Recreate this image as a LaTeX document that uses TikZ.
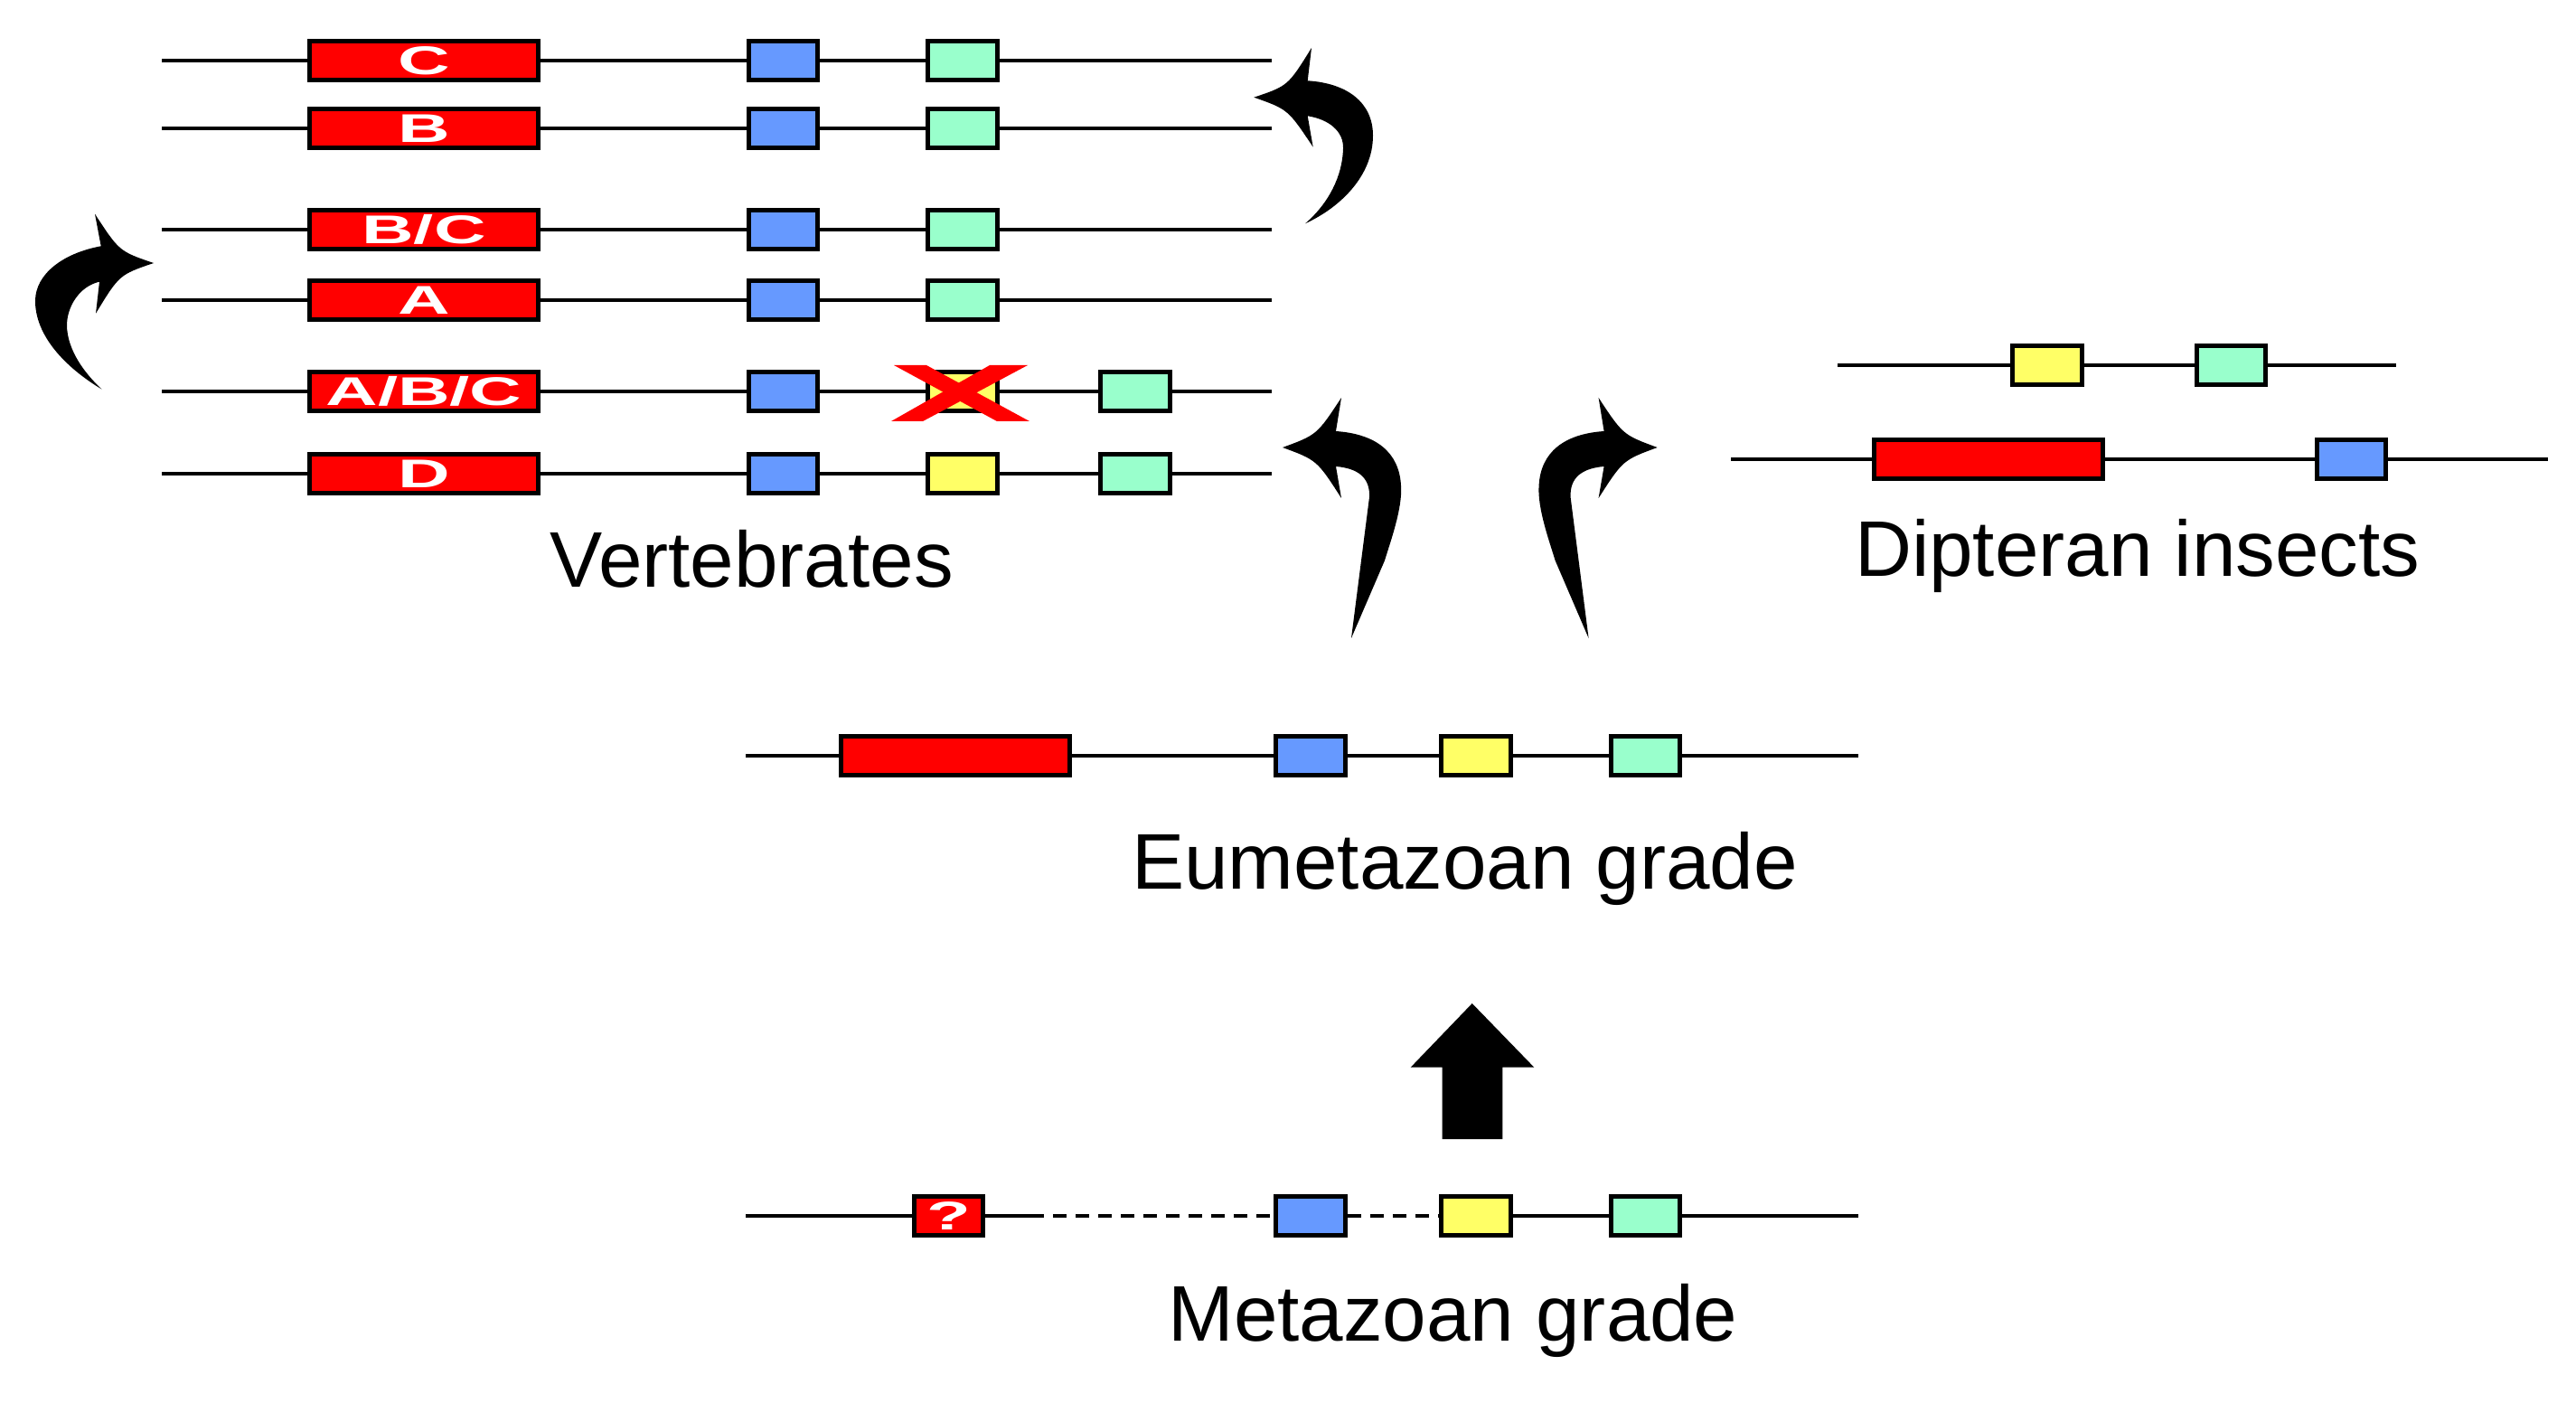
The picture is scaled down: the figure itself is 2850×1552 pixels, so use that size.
\documentclass[tikz,border=0pt]{standalone}
\usepackage{fontspec}
\setmainfont{Liberation Sans}
\definecolor{geneRed}{RGB}{255,0,0}
\definecolor{geneBlue}{RGB}{102,153,255}
\definecolor{geneYellow}{RGB}{255,255,102}
\definecolor{geneGreen}{RGB}{153,255,204}
\newcommand\boxlabel[1]{\scalebox{1.8}[1]{\fontsize{12.6}{14}\selectfont\bfseries #1}}
\tikzset{
  gline/.style={line width=0.035cm, black},
  dline/.style={gline, dash pattern=on 0.15cm off 0.1cm},
  gbox/.style={rectangle, draw=black, line width=0.05cm, inner sep=0pt, minimum height=0.425cm},
  redbox/.style={gbox, fill=geneRed, minimum width=2.525cm, text=white},
  qbox/.style={gbox, fill=geneRed, minimum width=0.765cm, text=white},
  bluebox/.style={gbox, fill=geneBlue, minimum width=0.765cm},
  yellowbox/.style={gbox, fill=geneYellow, minimum width=0.765cm},
  greenbox/.style={gbox, fill=geneGreen, minimum width=0.765cm},
  biglabel/.style={anchor=base, inner sep=0pt, font=\fontsize{24.8}{30}\selectfont},
  crossmark/.style={fill=geneRed},
  fatarrow/.style={fill=black}
}
\begin{document}
\begin{tikzpicture}[x=0.01cm, y=-0.01cm]
\useasboundingbox (0,0) rectangle (2850,1552);

% ---------- Vertebrate rows ----------
\foreach \nm/\yy in {rc/67, rb/142, rbc/254, ra/332, rabc/433, rd/524}{
  \coordinate (\nm L) at (179,\yy);
  \coordinate (\nm R) at (1407,\yy);
  \draw[gline] (\nm L) -- (\nm R);
}
% row C
\node[redbox] (cRed) at (469,67) {\boxlabel{C}};
\node[bluebox] (cBlue) at (866.5,67) {};
\node[greenbox] (cGreen) at (1065,67) {};
% row B
\node[redbox] (bRed) at (469,142) {\boxlabel{B}};
\node[bluebox] (bBlue) at (866.5,142) {};
\node[greenbox] (bGreen) at (1065,142) {};
% row B/C
\node[redbox] (bcRed) at (469,254) {\boxlabel{B/C}};
\node[bluebox] (bcBlue) at (866.5,254) {};
\node[greenbox] (bcGreen) at (1065,254) {};
% row A
\node[redbox] (aRed) at (469,332) {\boxlabel{A}};
\node[bluebox] (aBlue) at (866.5,332) {};
\node[greenbox] (aGreen) at (1065,332) {};
% row A/B/C
\node[redbox] (abcRed) at (469,433) {\boxlabel{A/B/C}};
\node[bluebox] (abcBlue) at (866.5,433) {};
\node[yellowbox] (abcYellow) at (1065,433) {};
\node[greenbox] (abcGreen) at (1256,433) {};
% red cross over lost yellow
\fill[crossmark] (989,404) -- (1025,404) -- (1139,466) -- (1103,466) -- cycle;
\fill[crossmark] (1095,404) -- (1137,404) -- (1021,466) -- (986,466) -- cycle;
% row D
\node[redbox] (dRed) at (469,524) {\boxlabel{D}};
\node[bluebox] (dBlue) at (866.5,524) {};
\node[yellowbox] (dYellow) at (1065,524) {};
\node[greenbox] (dGreen) at (1256,524) {};

\node[biglabel] (vert) at (831.7,649.3) {Vertebrates};

% ---------- Dipteran rows ----------
\coordinate (d1L) at (2033,404);
\coordinate (d1R) at (2651,404);
\draw[gline] (d1L) -- (d1R);
\node[yellowbox] (dipYellow) at (2265,404) {};
\node[greenbox] (dipGreen) at (2468.5,404) {};
\coordinate (d2L) at (1915,508);
\coordinate (d2R) at (2819,508);
\draw[gline] (d2L) -- (d2R);
\node[redbox] (dipRed) at (2200,508) {};
\node[bluebox] (dipBlue) at (2601.5,508) {};
\node[biglabel] (dipt) at (2364.8,637.3) {Dipteran insects};

% ---------- Eumetazoan row ----------
\coordinate (eL) at (825,836);
\coordinate (eR) at (2056,836);
\draw[gline] (eL) -- (eR);
\node[redbox] (eRed) at (1057,836) {};
\node[bluebox] (eBlue) at (1450,836) {};
\node[yellowbox] (eYellow) at (1633,836) {};
\node[greenbox] (eGreen) at (1820.5,836) {};
\node[biglabel] (eume) at (1620.5,983.3) {Eumetazoan grade};

% ---------- Metazoan row ----------
\coordinate (mL) at (825,1345);
\coordinate (mR) at (2056,1345);
\coordinate (mS1) at (1155,1345);
\coordinate (mS2) at (1165,1345);
\node[qbox] (mQ) at (1049.5,1345) {\boxlabel{?}};
\node[bluebox] (mBlue) at (1450,1345) {};
\node[yellowbox] (mYellow) at (1633,1345) {};
\node[greenbox] (mGreen) at (1820.5,1345) {};
\draw[gline] (mL) -- (mQ.west);
\draw[gline] (mQ.east) -- (mS1);
\draw[dline] (mS2) -- (mBlue.west);
\draw[dline] (mBlue.east) -- (mYellow.west);
\draw[gline] (mYellow.east) -- (mGreen.west);
\draw[gline] (mGreen.east) -- (mR);
\node[biglabel] (meta) at (1607.5,1483.3) {Metazoan grade};

% ---------- big straight arrow ----------
\fill[fatarrow] (1628.7,1110) -- (1697.3,1180.7) -- (1662.3,1180.7) -- (1662.3,1260)
  -- (1595.7,1260) -- (1595.7,1180.7) -- (1560.7,1180.7) -- cycle;

% ---------- curved arrow: eumetazoan -> vertebrates ----------
\fill[fatarrow] (1478,477) -- (1484,440) .. controls (1457,481) .. (1419,495)
  .. controls (1457,509) .. (1484,551) -- (1478,516)
  .. controls (1502,518) and (1516,528) .. (1515,550) -- (1495,706)
  -- (1532,620) .. controls (1538,600) and (1552,562) .. (1550,537)
  .. controls (1548,500) and (1522,480) .. (1478,477) -- cycle;

% ---------- curved arrow: eumetazoan -> dipterans ----------
\fill[fatarrow] (1774.6,477) -- (1768.6,440) .. controls (1795.6,481) .. (1833.6,495)
  .. controls (1795.6,509) .. (1768.6,551) -- (1774.6,516)
  .. controls (1750.6,518) and (1736.6,528) .. (1737.6,550) -- (1757.6,706)
  -- (1720.6,620) .. controls (1714.6,600) and (1700.6,562) .. (1702.6,537)
  .. controls (1704.6,500) and (1730.6,480) .. (1774.6,477) -- cycle;

% ---------- curved arrow: top right (B/C -> B, C) ----------
\fill[fatarrow] (1446.7,89.3) -- (1451,53) .. controls (1425,95) .. (1387.3,107.7)
  .. controls (1425,121) .. (1452.7,162.7) -- (1446.7,128.3)
  .. controls (1470,132) and (1487,145) .. (1486,165)
  .. controls (1485,195) and (1470,225) .. (1444,247.3)
  .. controls (1482,230) and (1519,195) .. (1519,150)
  .. controls (1519,113) and (1490,92) .. (1446.7,89.3) -- cycle;

% ---------- curved arrow: top left (A/B/C -> A, B/C) ----------
\fill[fatarrow] (111.7,272.3) -- (105,236.7) .. controls (132,278) .. (170,291)
  .. controls (132,304) .. (106,346.7) -- (110,311.7)
  .. controls (95,315) and (80,328) .. (75,350)
  .. controls (70,375) and (85,405) .. (112.7,430.7)
  .. controls (70,405) and (39,370) .. (39,333)
  .. controls (39,303) and (70,280) .. (111.7,272.3) -- cycle;
\end{tikzpicture}
\end{document}
